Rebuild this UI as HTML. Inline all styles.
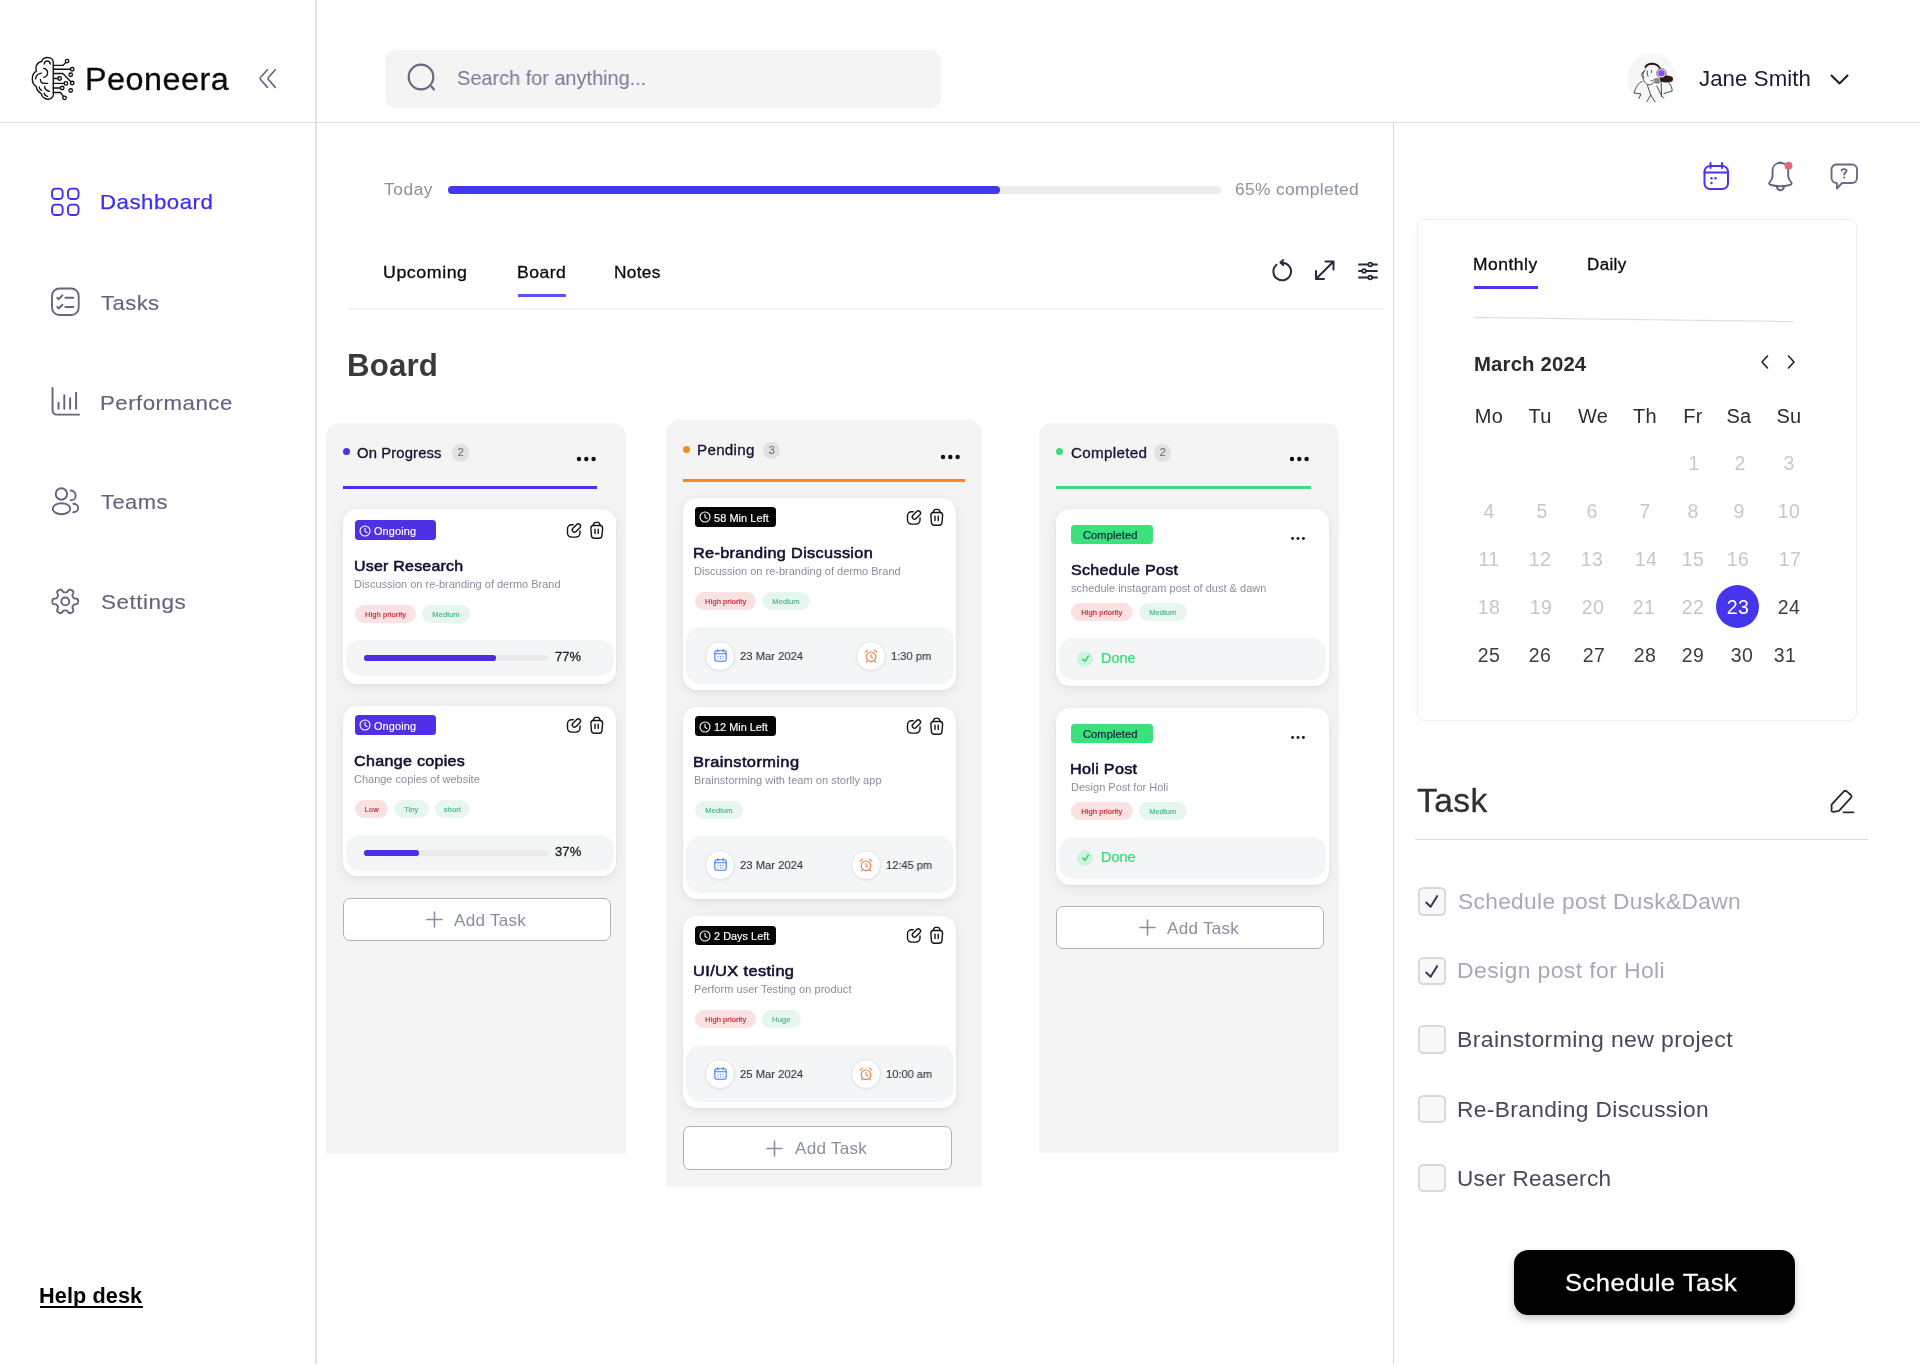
<!DOCTYPE html>
<html><head><meta charset="utf-8"><title>Peoneera</title>
<style>
*{margin:0;padding:0;box-sizing:border-box}
html,body{width:1920px;height:1366px;overflow:hidden;background:#fff;font-family:"Liberation Sans",sans-serif}
.t{position:absolute;line-height:1;white-space:nowrap;will-change:transform}
.r{position:absolute}
.s{position:absolute;overflow:visible}
.med{-webkit-text-stroke:0.35px currentColor}
</style></head><body>
<div class="r" style="left:315.2px;top:0px;width:1.8px;height:1363.5px;background:#e2e2e2;border-radius:0px;"></div>
<div class="r" style="left:0px;top:121.8px;width:1920px;height:1.6px;background:#dcdcdc;border-radius:0px;"></div>
<div class="r" style="left:1392.7px;top:123px;width:1.4px;height:1240.5px;background:#d9d9d9;border-radius:0px;"></div>
<svg class="s" style="left:26px;top:52px;" width="56" height="54" viewBox="0 0 56 54" fill="none"><g stroke="#111" stroke-width="1.35" stroke-linecap="round" stroke-linejoin="round">
<path d="M27.3 10.5 C27.3 7.5 24.8 5.5 21.5 5.5 C18.5 5.5 16.2 7.2 15.6 9.5 C12.5 10.2 10.3 12.5 10 15.5 C9.8 17 10 18 10.3 19.2 C7.8 20.6 6.3 23.5 6.3 27 C6.3 30.2 7.8 33 10.3 34.6 C10.5 37.3 12.5 40 15.2 41.5 C15.8 44.6 18.5 47.2 22 47.2 C25 47.2 27.3 45 27.3 42.5 Z"/>
<path d="M18.2 12 C18.5 9.8 20 9 21.3 9 C22.8 9 24 10 24.3 12 M17.6 16.4 C20.5 16.6 21.8 19 21.6 21 C21.4 23.5 19.5 25 17.8 25.3 M15.4 21.1 C12 21.5 10 24 9.5 26.9 M14.4 27.3 C14.4 29.8 15.8 31.4 18 31.4 H21.7 M13.2 35 C13.5 36.8 14.5 38 15.6 38.3 M18.6 34.4 C18.8 37.2 21 39 23.7 39.3 M18.2 41.1 C18.5 42.8 19.8 44 21.5 44.3"/>
<path d="M27.3 13.4 H36.8 L39.8 10.4 M27.3 17.2 H44.4 M27.3 21.5 H36.8 L44.9 29.7 M27.3 26.5 H31.9 M27.3 31.4 H38.1 M27.3 36 H34.4 M27.3 40.5 H34.4 L37.5 44.4"/>
<circle cx="41.1" cy="9.1" r="1.75"/><circle cx="46.2" cy="17.2" r="1.75"/><circle cx="46.2" cy="31" r="1.75"/><circle cx="44.7" cy="22.7" r="1.75"/>
<circle cx="33.6" cy="26.5" r="1.75"/><circle cx="39.9" cy="31.4" r="1.75"/><circle cx="36.2" cy="36" r="1.75"/><circle cx="44.7" cy="38.5" r="1.75"/><circle cx="38.5" cy="45.8" r="1.75"/>
</g></svg>
<div class="t" style="left:85.02px;top:63.75px;font-size:31px;color:#0b0b0f;letter-spacing:0.507px;-webkit-text-stroke:0.3px #0b0b0f;transform:scaleX(1.0421);transform-origin:0 0;">Peoneera</div>
<svg class="s" style="left:256px;top:68px;" width="24" height="22" viewBox="0 0 24 22" fill="none"><path d="M11.4 1.7 L4.5 9.5 Q3.6 10.55 4.5 11.6 L11.4 19.4 M19.3 1.7 L12.4 9.5 Q11.5 10.55 12.4 11.6 L19.3 19.4" stroke="#66637e" stroke-width="1.6" stroke-linecap="round" stroke-linejoin="round"/></svg>
<svg class="s" style="left:51px;top:187.5px;" width="30" height="30" viewBox="0 0 30 30" fill="none"><g stroke="#3d2ff0" stroke-width="1.9"><rect x="1.05" y="0.65" width="10.6" height="10.4" rx="3.6"/><rect x="16.95" y="0.65" width="10.6" height="10.4" rx="3.6"/>
<rect x="1.05" y="16.65" width="10.6" height="10.4" rx="3.6"/><rect x="16.95" y="16.65" width="10.6" height="10.4" rx="3.6"/></g></svg>
<div class="t" style="left:99.52px;top:191.02px;font-size:21px;color:#3d2ff0;letter-spacing:0.465px;-webkit-text-stroke:0.25px #3d2ff0;transform:scaleX(1.0593);transform-origin:0 0;">Dashboard</div>
<svg class="s" style="left:51px;top:287.5px;" width="30" height="30" viewBox="0 0 30 30" fill="none"><g stroke="#66637e" stroke-width="1.85" stroke-linecap="round" stroke-linejoin="round"><rect x="1" y="0.5" width="26.7" height="26.5" rx="7.5"/>
<path d="M6.3 9.7 L7.7 11.1 L11.4 7.4 M14.4 9.7 H22.3 M6.3 19 L7.7 20.4 L11.4 16.7 M14.4 19 H22.3" stroke-width="2"/></g></svg>
<div class="t" style="left:100.86px;top:291.52px;font-size:21px;color:#66637e;letter-spacing:0.419px;-webkit-text-stroke:0.15px #66637e;transform:scaleX(1.0503);transform-origin:0 0;">Tasks</div>
<svg class="s" style="left:50.5px;top:387px;" width="30" height="30" viewBox="0 0 30 30" fill="none"><g stroke="#66637e" stroke-width="1.95" stroke-linecap="round" stroke-linejoin="round">
<path d="M1.55 0.9 V23.4 a4.2 4.2 0 0 0 4.2 4.2 H28.1"/><path d="M7.5 15.7 V21.7 M13.3 8.3 V21.7 M19.1 11.2 V21.7 M25.1 5.6 V21.7"/></g></svg>
<div class="t" style="left:99.62px;top:391.82px;font-size:21px;color:#66637e;letter-spacing:0.449px;-webkit-text-stroke:0.15px #66637e;transform:scaleX(1.0607);transform-origin:0 0;">Performance</div>
<svg class="s" style="left:51px;top:487px;" width="30" height="30" viewBox="0 0 30 30" fill="none"><g stroke="#66637e" stroke-width="1.9" stroke-linecap="round" stroke-linejoin="round">
<circle cx="10.4" cy="7" r="5.7"/><ellipse cx="10.5" cy="21.7" rx="8.8" ry="5.5"/>
<path d="M19.7 3.5 A5 4.9 0 0 1 19.7 13.3 M22.3 16.8 A4.8 4.2 0 0 1 22.3 25.2"/></g></svg>
<div class="t" style="left:100.86px;top:491.02px;font-size:21px;color:#66637e;letter-spacing:0.432px;-webkit-text-stroke:0.15px #66637e;transform:scaleX(1.0446);transform-origin:0 0;">Teams</div>
<svg class="s" style="left:51px;top:587px;" width="30" height="30" viewBox="0 0 30 30" fill="none"><g stroke="#66637e" stroke-width="1.9" stroke-linejoin="round"><circle cx="14.25" cy="14.4" r="3.95"/><path d="M27.15 14.40 L27.14 14.74 L27.12 15.07 L27.08 15.41 L27.02 15.74 L26.92 16.07 L26.76 16.38 L26.51 16.67 L26.12 16.92 L25.54 17.11 L24.83 17.23 L24.11 17.32 L23.54 17.42 L23.14 17.55 L22.87 17.71 L22.68 17.89 L22.53 18.09 L22.40 18.29 L22.28 18.49 L22.16 18.70 L22.04 18.90 L21.93 19.10 L21.81 19.31 L21.69 19.51 L21.58 19.73 L21.49 19.95 L21.42 20.21 L21.42 20.52 L21.51 20.94 L21.71 21.48 L21.99 22.14 L22.24 22.82 L22.37 23.42 L22.35 23.88 L22.22 24.25 L22.03 24.54 L21.80 24.79 L21.54 25.01 L21.27 25.21 L20.99 25.40 L20.70 25.57 L20.40 25.73 L20.10 25.88 L19.79 26.02 L19.47 26.13 L19.14 26.21 L18.79 26.23 L18.41 26.16 L18.00 25.94 L17.55 25.53 L17.08 24.98 L16.65 24.40 L16.28 23.95 L15.97 23.67 L15.69 23.52 L15.44 23.44 L15.20 23.41 L14.96 23.40 L14.72 23.40 L14.49 23.40 L14.25 23.40 L14.01 23.40 L13.78 23.40 L13.54 23.40 L13.30 23.41 L13.06 23.44 L12.81 23.52 L12.53 23.67 L12.22 23.95 L11.85 24.40 L11.42 24.98 L10.95 25.53 L10.50 25.94 L10.09 26.16 L9.71 26.23 L9.36 26.21 L9.03 26.13 L8.71 26.02 L8.40 25.88 L8.10 25.73 L7.80 25.57 L7.51 25.40 L7.23 25.21 L6.96 25.01 L6.70 24.79 L6.47 24.54 L6.28 24.25 L6.15 23.88 L6.13 23.42 L6.26 22.82 L6.51 22.14 L6.79 21.48 L6.99 20.94 L7.08 20.52 L7.08 20.21 L7.01 19.95 L6.92 19.73 L6.81 19.51 L6.69 19.31 L6.57 19.10 L6.46 18.90 L6.34 18.70 L6.22 18.49 L6.10 18.29 L5.97 18.09 L5.82 17.89 L5.63 17.71 L5.36 17.55 L4.96 17.42 L4.39 17.32 L3.67 17.23 L2.96 17.11 L2.38 16.92 L1.99 16.67 L1.74 16.38 L1.58 16.07 L1.48 15.74 L1.42 15.41 L1.38 15.07 L1.36 14.74 L1.35 14.40 L1.36 14.06 L1.38 13.73 L1.42 13.39 L1.48 13.06 L1.58 12.73 L1.74 12.42 L1.99 12.13 L2.38 11.88 L2.96 11.69 L3.67 11.57 L4.39 11.48 L4.96 11.38 L5.36 11.25 L5.63 11.09 L5.82 10.91 L5.97 10.71 L6.10 10.51 L6.22 10.31 L6.34 10.10 L6.46 9.90 L6.57 9.70 L6.69 9.49 L6.81 9.29 L6.92 9.07 L7.01 8.85 L7.08 8.59 L7.08 8.28 L6.99 7.86 L6.79 7.32 L6.51 6.66 L6.26 5.98 L6.13 5.38 L6.15 4.92 L6.28 4.55 L6.47 4.26 L6.70 4.01 L6.96 3.79 L7.23 3.59 L7.51 3.40 L7.80 3.23 L8.10 3.07 L8.40 2.92 L8.71 2.78 L9.03 2.67 L9.36 2.59 L9.71 2.57 L10.09 2.64 L10.50 2.86 L10.95 3.27 L11.42 3.82 L11.85 4.40 L12.22 4.85 L12.53 5.13 L12.81 5.28 L13.06 5.36 L13.30 5.39 L13.54 5.40 L13.78 5.40 L14.01 5.40 L14.25 5.40 L14.49 5.40 L14.72 5.40 L14.96 5.40 L15.20 5.39 L15.44 5.36 L15.69 5.28 L15.97 5.13 L16.28 4.85 L16.65 4.40 L17.08 3.82 L17.55 3.27 L18.00 2.86 L18.41 2.64 L18.79 2.57 L19.14 2.59 L19.47 2.67 L19.79 2.78 L20.10 2.92 L20.40 3.07 L20.70 3.23 L20.99 3.40 L21.27 3.59 L21.54 3.79 L21.80 4.01 L22.03 4.26 L22.22 4.55 L22.35 4.92 L22.37 5.38 L22.24 5.98 L21.99 6.66 L21.71 7.32 L21.51 7.86 L21.42 8.28 L21.42 8.59 L21.49 8.85 L21.58 9.07 L21.69 9.29 L21.81 9.49 L21.93 9.70 L22.04 9.90 L22.16 10.10 L22.28 10.31 L22.40 10.51 L22.53 10.71 L22.68 10.91 L22.87 11.09 L23.14 11.25 L23.54 11.38 L24.11 11.48 L24.83 11.57 L25.54 11.69 L26.12 11.88 L26.51 12.13 L26.76 12.42 L26.92 12.73 L27.02 13.06 L27.08 13.39 L27.12 13.73 L27.14 14.06 Z"/></g></svg>
<div class="t" style="left:100.89px;top:591.12px;font-size:21px;color:#66637e;letter-spacing:0.473px;-webkit-text-stroke:0.15px #66637e;transform:scaleX(1.0717);transform-origin:0 0;">Settings</div>
<div class="t" style="left:39.19px;top:1285.60px;font-size:21.5px;color:#000;font-weight:700;letter-spacing:0.075px;transform:scaleX(1.0090);transform-origin:0 0;">Help desk</div>
<div class="r" style="left:40.2px;top:1306.2px;width:102.5px;height:1.8px;background:#000;border-radius:0px;"></div>
<div class="r" style="left:384.5px;top:49.5px;width:556px;height:58px;background:#f4f4f5;border-radius:10px;"></div>
<svg class="s" style="left:406px;top:62px;" width="32" height="32" viewBox="0 0 32 32" fill="none"><circle cx="15" cy="15" r="12.3" stroke="#6a6880" stroke-width="2.2"/><path d="M25.5 24.5 L28 27.5" stroke="#6a6880" stroke-width="2.2" stroke-linecap="round"/></svg>
<div class="t" style="left:456.90px;top:67.70px;font-size:20.2px;color:#7b7891;letter-spacing:-0.051px;transform:scaleX(0.9915);transform-origin:0 0;">Search for anything...</div>
<svg class="s" style="left:1627.5px;top:54px;" width="48" height="48" viewBox="0 0 48 48" fill="none"><circle cx="24" cy="24.5" r="24.5" fill="#f5f6f7"/>
<g stroke="#3a2e28" stroke-width="0.85" fill="none" stroke-linecap="round" stroke-linejoin="round">
<path d="M17.5 15.5 C15.5 17 14.8 20 15 23 C15.3 27 17.5 30.5 21 30.8 C23 31 24.5 30 25.5 28.5"/>
<path d="M16 17.5 C14 17.5 13.2 20 14.2 22.3 C14.8 23.5 15.5 23.6 16 23.5"/>
<path d="M19.5 17 C19 18.5 19.2 21 20 22.5 M23.5 16.5 V18.5"/>
<path d="M23 26.8 C24 27 25 26.6 25.5 26"/>
<path d="M14 27.5 C10 29 8 33 6 39 L13 40 L11 44.5"/>
<path d="M19.5 31.5 L22.7 41 L19 47.5 M22.7 41 L27 47.8"/>
<path d="M28.8 32 L33.4 41.5 L35.5 44"/>
<path d="M33 24.8 L33.6 42.5"/>
<path d="M40.8 28.8 C43 31 44 34 44.2 37 L35.9 39.5"/>
<path d="M17.2 13.5 C19 10.5 23 9.5 27 10.5 C29.5 11.2 31.5 13 32.5 15.5"/>
</g>
<path d="M16.5 12.8 C18 9 22.5 8.3 26.5 9 C29.5 9.6 31.5 11.5 32.8 14.5 L31.2 15 C30 12.5 28 11.2 25.5 10.8 C22 10.3 19.5 11 17.8 14.5 Z" fill="#2a1a12"/>
<path d="M31.5 21.5 C35 21 40 21.5 43.5 22.5 C45.5 23.2 45.5 26.5 43.5 27.8 C40.5 29 36 28.8 32.5 27.5 Z" fill="#2a1a12"/>
<path d="M26.2 24.5 C28 23.5 30.5 23.8 31.8 25 L31.8 29 C30 30 27.5 30 26.2 29 Z" fill="#8d8580"/>
<circle cx="33.4" cy="19.3" r="4.6" fill="#fff" stroke="#3a2e28" stroke-width="0.8"/>
<circle cx="33.4" cy="19.3" r="3.3" fill="#8a4cf5"/></svg>
<div class="t" style="left:1698.67px;top:68.37px;font-size:22px;color:#1c1938;letter-spacing:0.077px;transform:scaleX(1.0098);transform-origin:0 0;">Jane Smith</div>
<svg class="s" style="left:1829px;top:73px;" width="22" height="14" viewBox="0 0 22 14" fill="none"><path d="M2.5 2.5 L10.5 10.5 L18.5 2.5" stroke="#1c1938" stroke-width="2" stroke-linecap="round" stroke-linejoin="round"/></svg>
<div class="t" style="left:384.35px;top:181.65px;font-size:16px;color:#8b90a0;letter-spacing:0.536px;transform:scaleX(1.0821);transform-origin:0 0;">Today</div>
<div class="r" style="left:447.7px;top:185.7px;width:773.5px;height:8.2px;background:#ececec;border-radius:4.1px;"></div>
<div class="r" style="left:447.7px;top:185.7px;width:552px;height:8.2px;background:#4338f0;border-radius:4.1px;"></div>
<div class="t" style="left:1234.93px;top:181.23px;font-size:16.5px;color:#8b90a0;letter-spacing:0.314px;transform:scaleX(1.0532);transform-origin:0 0;">65% completed</div>
<div class="t" style="left:383.16px;top:264.33px;font-size:16.5px;color:#0b0b0f;letter-spacing:0.506px;-webkit-text-stroke:0.3px #0b0b0f;transform:scaleX(1.0797);transform-origin:0 0;">Upcoming</div>
<div class="t" style="left:516.79px;top:264.33px;font-size:16.5px;color:#0b0b0f;letter-spacing:0.442px;-webkit-text-stroke:0.3px #0b0b0f;transform:scaleX(1.0681);transform-origin:0 0;">Board</div>
<div class="t" style="left:614.32px;top:264.33px;font-size:16.5px;color:#0b0b0f;letter-spacing:0.309px;-webkit-text-stroke:0.3px #0b0b0f;transform:scaleX(1.0471);transform-origin:0 0;">Notes</div>
<div class="r" style="left:517.7px;top:294.2px;width:48px;height:2.8px;background:#5b55f0;border-radius:0px;"></div>
<div class="r" style="left:348px;top:308.3px;width:1034.5px;height:2.2px;background:#f2f2f3;border-radius:0px;"></div>
<svg class="s" style="left:1271.2px;top:260px;" width="22" height="22" viewBox="0 0 22 22" fill="none"><g stroke="#262b3d" stroke-width="2" stroke-linecap="round" stroke-linejoin="round">
<path d="M5.54 4.76 A8.8 8.8 0 1 0 10.9 2.7"/><path d="M12.2 0.1 L9.4 2.55 L12.2 5.1"/></g></svg>
<svg class="s" style="left:1314px;top:260px;" width="22" height="22" viewBox="0 0 22 22" fill="none"><g stroke="#262b3d" stroke-width="2" stroke-linecap="round" stroke-linejoin="round">
<path d="M2 19 L19.5 1.5 M11.5 1.5 H19.5 V9.5 M2 11 V19 H10"/></g></svg>
<svg class="s" style="left:1357.5px;top:262px;" width="21" height="19" viewBox="0 0 21 19" fill="none"><g stroke="#262b3d" stroke-width="1.8" stroke-linecap="round">
<path d="M1 2.5 H10 M14.5 2.5 H19 M1 9 H3.8 M8.3 9 H19 M1 15.5 H10 M14.5 15.5 H19"/>
<circle cx="12.2" cy="2.5" r="1.9"/><circle cx="6" cy="9" r="1.9"/><circle cx="12.2" cy="15.5" r="1.9"/></g></svg>
<div class="t" style="left:347.17px;top:350.15px;font-size:31px;color:#3a3a3c;font-weight:700;letter-spacing:0.123px;transform:scaleX(1.0087);transform-origin:0 0;">Board</div>
<div class="r" style="left:326px;top:423px;width:300px;height:730.5px;background:#f4f4f4;border-radius:0px;border-radius:13px 13px 0 0;"></div>
<div class="r" style="left:666px;top:419.6px;width:316px;height:767.4px;background:#f4f4f4;border-radius:0px;border-radius:13px 13px 0 0;"></div>
<div class="r" style="left:1038.5px;top:422.7px;width:300px;height:730.8px;background:#f4f4f4;border-radius:0px;border-radius:13px 13px 0 0;"></div>
<div class="r" style="left:342.59999999999997px;top:448.2px;width:7.2px;height:7.2px;background:#4a2ff0;border-radius:3.6px;"></div>
<div class="t" style="left:357.33px;top:445.62px;font-size:14.5px;color:#15122f;letter-spacing:0.119px;-webkit-text-stroke:0.3px #15122f;transform:scaleX(1.0227);transform-origin:0 0;">On Progress</div>
<div class="r" style="left:451.5px;top:444.3px;width:17.4px;height:17.4px;background:#e1e1e3;border-radius:8.7px;"></div>
<div class="t" style="left:451.50px;width:17.4px;text-align:center;top:447.26px;font-size:11.5px;color:#66667a;">2</div>
<svg class="s" style="left:575.5px;top:456px;" width="21" height="6" viewBox="0 0 21 6" fill="none"><g fill="#0b0b12"><circle cx="3" cy="3" r="2.2"/><circle cx="10.3" cy="3" r="2.2"/><circle cx="17.6" cy="3" r="2.2"/></g></svg>
<div class="r" style="left:342.7px;top:485.9px;width:254.8px;height:3px;background:#4a2ff0;border-radius:0px;"></div>
<div class="r" style="left:682.9px;top:445.7px;width:7.2px;height:7.2px;background:#f58a1f;border-radius:3.6px;"></div>
<div class="t" style="left:696.98px;top:443.12px;font-size:14.5px;color:#15122f;letter-spacing:0.26px;-webkit-text-stroke:0.3px #15122f;transform:scaleX(1.0480);transform-origin:0 0;">Pending</div>
<div class="r" style="left:762.8px;top:441.6px;width:17.4px;height:17.4px;background:#e1e1e3;border-radius:8.7px;"></div>
<div class="t" style="left:762.80px;width:17.4px;text-align:center;top:444.56px;font-size:11.5px;color:#66667a;">3</div>
<svg class="s" style="left:939.9px;top:453.5px;" width="21" height="6" viewBox="0 0 21 6" fill="none"><g fill="#0b0b12"><circle cx="3" cy="3" r="2.2"/><circle cx="10.3" cy="3" r="2.2"/><circle cx="17.6" cy="3" r="2.2"/></g></svg>
<div class="r" style="left:683px;top:479.3px;width:282px;height:3px;background:#f58a1f;border-radius:0px;"></div>
<div class="r" style="left:1055.7px;top:448.2px;width:7.2px;height:7.2px;background:#3ddc74;border-radius:3.6px;"></div>
<div class="t" style="left:1070.64px;top:445.62px;font-size:14.5px;color:#15122f;letter-spacing:0.279px;-webkit-text-stroke:0.3px #15122f;transform:scaleX(1.0514);transform-origin:0 0;">Completed</div>
<div class="r" style="left:1154.0px;top:444.3px;width:17.4px;height:17.4px;background:#e1e1e3;border-radius:8.7px;"></div>
<div class="t" style="left:1154.00px;width:17.4px;text-align:center;top:447.26px;font-size:11.5px;color:#66667a;">2</div>
<svg class="s" style="left:1288.7px;top:456.3px;" width="21" height="6" viewBox="0 0 21 6" fill="none"><g fill="#0b0b12"><circle cx="3" cy="3" r="2.2"/><circle cx="10.3" cy="3" r="2.2"/><circle cx="17.6" cy="3" r="2.2"/></g></svg>
<div class="r" style="left:1056px;top:486.1px;width:254.70000000000005px;height:3px;background:#3ddc74;border-radius:0px;"></div>
<div class="r" style="left:343.3px;top:509px;width:272.7px;height:175.4px;background:#fff;border-radius:14px;box-shadow:0 3px 14px rgba(0,0,0,0.075),0 1px 3px rgba(0,0,0,0.04);"></div>
<div class="r" style="left:355.0px;top:520.3px;width:81px;height:20.1px;background:#5030e5;border-radius:3.5px;"></div>
<svg class="s" style="left:359.4px;top:524.7499999999999px;" width="12" height="12" viewBox="0 0 12 12" fill="none"><circle cx="6" cy="6" r="5" stroke="#fff" stroke-width="1.1"/><path d="M6 3.2 V6.2 L8 7.6" stroke="#fff" stroke-width="1.1" stroke-linecap="round" stroke-linejoin="round"/></svg>
<div class="t" style="left:373.91px;top:526.01px;font-size:10.5px;color:#fff;letter-spacing:0.146px;-webkit-text-stroke:0.15px #fff;transform:scaleX(1.0353);transform-origin:0 0;">Ongoing</div>
<svg class="s" style="left:566.2px;top:523.1px;" width="16" height="16" viewBox="0 0 16 16" fill="none"><g stroke="#141418" stroke-width="1.4" stroke-linecap="round" stroke-linejoin="round"><path d="M7.2 1.7 H5.5 A4 4 0 0 0 1.5 5.7 V10.1 A4 4 0 0 0 5.5 14.1 H10 A4 4 0 0 0 14 10.1 V7.9"/><rect x="5.52" y="2.8" width="9.77" height="4.4" rx="2.2" transform="rotate(-45 10.4 5)"/></g></svg>
<svg class="s" style="left:589.3px;top:522.2px;" width="16" height="17" viewBox="0 0 16 17" fill="none"><g stroke="#141418" stroke-width="1.4" stroke-linecap="round" stroke-linejoin="round"><path d="M1.85 6.3 A2.75 2.75 0 0 1 4.6 3.55 H10.85 A2.75 2.75 0 0 1 13.6 6.3 L13 13 A3.2 3.2 0 0 1 9.8 16.2 H5.6 A3.2 3.2 0 0 1 2.4 13 Z"/><path d="M3.9 3.3 L5.1 1.4 Q5.5 0.4 6.5 0.4 H8.9 Q9.9 0.4 10.3 1.4 L11.4 3.3"/><path d="M6 7.3 V11.5 M9.2 7.3 V11.5"/></g></svg>
<div class="t" style="left:353.80px;top:558.05px;font-size:15.3px;color:#120f30;letter-spacing:0.227px;-webkit-text-stroke:0.55px #120f30;transform:scaleX(1.0426);transform-origin:0 0;">User Research</div>
<div class="t" style="left:354.12px;top:578.99px;font-size:11px;color:#8d8c9f;letter-spacing:-0.003px;transform:scaleX(0.9990);transform-origin:0 0;">Discussion on re-branding of dermo Brand</div>
<div class="r" style="left:355.0px;top:605px;height:18.4px;display:flex;gap:6.2px"><div style="width:61.2px;height:18.4px;border-radius:9.2px;background:#fbe2e2;color:#cc2b36;font-size:7.6px;line-height:19.6px;text-align:center;-webkit-text-stroke:0.2px #cc2b36;letter-spacing:0.05px;will-change:transform">High priority</div><div style="width:48px;height:18.4px;border-radius:9.2px;background:#e7f7ef;color:#4cb98a;font-size:7.6px;line-height:19.6px;text-align:center;-webkit-text-stroke:0.2px #4cb98a;letter-spacing:0.05px;will-change:transform">Medium</div></div>
<div class="r" style="left:345.6px;top:639.8px;width:268px;height:36px;background:#f4f5f7;border-radius:14px;"></div>
<div class="r" style="left:364px;top:655.3px;width:184.5px;height:5.6px;background:#ebebeb;border-radius:2.8px;"></div>
<div class="r" style="left:364px;top:655.3px;width:131.6px;height:5.6px;background:#4f2de6;border-radius:2.8px;"></div>
<div class="t" style="left:555.35px;top:651.08px;font-size:12.9px;color:#202024;letter-spacing:0.019px;-webkit-text-stroke:0.3px #202024;transform:scaleX(1.0023);transform-origin:0 0;">77%</div>
<div class="r" style="left:343.3px;top:706.4px;width:272.7px;height:170px;background:#fff;border-radius:14px;box-shadow:0 3px 14px rgba(0,0,0,0.075),0 1px 3px rgba(0,0,0,0.04);"></div>
<div class="r" style="left:355.0px;top:714.9999999999999px;width:81px;height:20.1px;background:#5030e5;border-radius:3.5px;"></div>
<svg class="s" style="left:359.4px;top:719.4499999999998px;" width="12" height="12" viewBox="0 0 12 12" fill="none"><circle cx="6" cy="6" r="5" stroke="#fff" stroke-width="1.1"/><path d="M6 3.2 V6.2 L8 7.6" stroke="#fff" stroke-width="1.1" stroke-linecap="round" stroke-linejoin="round"/></svg>
<div class="t" style="left:373.91px;top:720.71px;font-size:10.5px;color:#fff;letter-spacing:0.146px;-webkit-text-stroke:0.15px #fff;transform:scaleX(1.0353);transform-origin:0 0;">Ongoing</div>
<svg class="s" style="left:566.2px;top:717.8px;" width="16" height="16" viewBox="0 0 16 16" fill="none"><g stroke="#141418" stroke-width="1.4" stroke-linecap="round" stroke-linejoin="round"><path d="M7.2 1.7 H5.5 A4 4 0 0 0 1.5 5.7 V10.1 A4 4 0 0 0 5.5 14.1 H10 A4 4 0 0 0 14 10.1 V7.9"/><rect x="5.52" y="2.8" width="9.77" height="4.4" rx="2.2" transform="rotate(-45 10.4 5)"/></g></svg>
<svg class="s" style="left:589.3px;top:716.9px;" width="16" height="17" viewBox="0 0 16 17" fill="none"><g stroke="#141418" stroke-width="1.4" stroke-linecap="round" stroke-linejoin="round"><path d="M1.85 6.3 A2.75 2.75 0 0 1 4.6 3.55 H10.85 A2.75 2.75 0 0 1 13.6 6.3 L13 13 A3.2 3.2 0 0 1 9.8 16.2 H5.6 A3.2 3.2 0 0 1 2.4 13 Z"/><path d="M3.9 3.3 L5.1 1.4 Q5.5 0.4 6.5 0.4 H8.9 Q9.9 0.4 10.3 1.4 L11.4 3.3"/><path d="M6 7.3 V11.5 M9.2 7.3 V11.5"/></g></svg>
<div class="t" style="left:354.20px;top:752.75px;font-size:15.3px;color:#120f30;letter-spacing:0.277px;-webkit-text-stroke:0.55px #120f30;transform:scaleX(1.0521);transform-origin:0 0;">Change copies</div>
<div class="t" style="left:354.45px;top:773.69px;font-size:11px;color:#8d8c9f;letter-spacing:-0.009px;transform:scaleX(0.9976);transform-origin:0 0;">Change copies of website</div>
<div class="r" style="left:355.0px;top:799.6999999999999px;height:18.4px;display:flex;gap:6.2px"><div style="width:33.3px;height:18.4px;border-radius:9.2px;background:#fbe2e2;color:#cc2b36;font-size:7.6px;line-height:19.6px;text-align:center;-webkit-text-stroke:0.2px #cc2b36;letter-spacing:0.05px;will-change:transform">Low</div><div style="width:34.7px;height:18.4px;border-radius:9.2px;background:#e7f7ef;color:#4cb98a;font-size:7.6px;line-height:19.6px;text-align:center;-webkit-text-stroke:0.2px #4cb98a;letter-spacing:0.05px;will-change:transform">Tiny</div><div style="width:34.7px;height:18.4px;border-radius:9.2px;background:#e7f7ef;color:#4cb98a;font-size:7.6px;line-height:19.6px;text-align:center;-webkit-text-stroke:0.2px #4cb98a;letter-spacing:0.05px;will-change:transform">short</div></div>
<div class="r" style="left:345.6px;top:834.5px;width:268px;height:36px;background:#f4f5f7;border-radius:14px;"></div>
<div class="r" style="left:364px;top:850.0px;width:184.5px;height:5.6px;background:#ebebeb;border-radius:2.8px;"></div>
<div class="r" style="left:364px;top:850.0px;width:55.3px;height:5.6px;background:#4f2de6;border-radius:2.8px;"></div>
<div class="t" style="left:555.48px;top:845.78px;font-size:12.9px;color:#202024;letter-spacing:0.092px;-webkit-text-stroke:0.3px #202024;transform:scaleX(1.0113);transform-origin:0 0;">37%</div>
<div class="r" style="left:683.4px;top:498.1px;width:272.8px;height:191.9px;background:#fff;border-radius:14px;box-shadow:0 3px 14px rgba(0,0,0,0.075),0 1px 3px rgba(0,0,0,0.04);"></div>
<div class="r" style="left:694.6px;top:507.3px;width:81.8px;height:19.5px;background:#050505;border-radius:3.5px;"></div>
<svg class="s" style="left:699.0px;top:511.44999999999993px;" width="12" height="12" viewBox="0 0 12 12" fill="none"><circle cx="6" cy="6" r="5" stroke="#fff" stroke-width="1.1"/><path d="M6 3.2 V6.2 L8 7.6" stroke="#fff" stroke-width="1.1" stroke-linecap="round" stroke-linejoin="round"/></svg>
<div class="t" style="left:713.96px;top:513.16px;font-size:10.8px;color:#fff;letter-spacing:0.054px;-webkit-text-stroke:0.15px #fff;transform:scaleX(1.0156);transform-origin:0 0;">58 Min Left</div>
<svg class="s" style="left:906.3px;top:509.90000000000003px;" width="16" height="16" viewBox="0 0 16 16" fill="none"><g stroke="#141418" stroke-width="1.4" stroke-linecap="round" stroke-linejoin="round"><path d="M7.2 1.7 H5.5 A4 4 0 0 0 1.5 5.7 V10.1 A4 4 0 0 0 5.5 14.1 H10 A4 4 0 0 0 14 10.1 V7.9"/><rect x="5.52" y="2.8" width="9.77" height="4.4" rx="2.2" transform="rotate(-45 10.4 5)"/></g></svg>
<svg class="s" style="left:929.4px;top:509.0px;" width="16" height="17" viewBox="0 0 16 17" fill="none"><g stroke="#141418" stroke-width="1.4" stroke-linecap="round" stroke-linejoin="round"><path d="M1.85 6.3 A2.75 2.75 0 0 1 4.6 3.55 H10.85 A2.75 2.75 0 0 1 13.6 6.3 L13 13 A3.2 3.2 0 0 1 9.8 16.2 H5.6 A3.2 3.2 0 0 1 2.4 13 Z"/><path d="M3.9 3.3 L5.1 1.4 Q5.5 0.4 6.5 0.4 H8.9 Q9.9 0.4 10.3 1.4 L11.4 3.3"/><path d="M6 7.3 V11.5 M9.2 7.3 V11.5"/></g></svg>
<div class="t" style="left:693.30px;top:544.65px;font-size:15.3px;color:#120f30;letter-spacing:0.308px;-webkit-text-stroke:0.55px #120f30;transform:scaleX(1.0645);transform-origin:0 0;">Re-branding Discussion</div>
<div class="t" style="left:693.72px;top:565.69px;font-size:11px;color:#8d8c9f;letter-spacing:-0.001px;transform:scaleX(0.9996);transform-origin:0 0;">Discussion on re-branding of dermo Brand</div>
<div class="r" style="left:694.6px;top:591.6px;height:18.4px;display:flex;gap:6.2px"><div style="width:61.4px;height:18.4px;border-radius:9.2px;background:#fbe2e2;color:#cc2b36;font-size:7.6px;line-height:19.6px;text-align:center;-webkit-text-stroke:0.2px #cc2b36;letter-spacing:0.05px;will-change:transform">High priority</div><div style="width:48px;height:18.4px;border-radius:9.2px;background:#e7f7ef;color:#4cb98a;font-size:7.6px;line-height:19.6px;text-align:center;-webkit-text-stroke:0.2px #4cb98a;letter-spacing:0.05px;will-change:transform">Medium</div></div>
<div class="r" style="left:686px;top:626.6px;width:267.7px;height:57.4px;background:#f4f5f7;border-radius:15px;"></div>
<div class="r" style="left:705px;top:640.7px;width:30px;height:30px;background:#fff;border-radius:15px;border:1px solid #e4e4e6;box-shadow:0 1px 2px rgba(0,0,0,0.06);"></div>
<svg class="s" style="left:713.5px;top:649.2px;" width="13" height="13" viewBox="0 0 13 13" fill="none"><g stroke="#3f7df5" stroke-width="1.1" stroke-linecap="round"><rect x="0.8" y="1.8" width="11.4" height="10.4" rx="2.2"/><path d="M0.8 4.8 H12.2 M3.8 0.6 V2.6 M9.2 0.6 V2.6"/></g><g fill="#3f7df5"><circle cx="4" cy="7.3" r="0.6"/><circle cx="6.5" cy="7.3" r="0.6"/><circle cx="9" cy="7.3" r="0.6"/><circle cx="4" cy="9.8" r="0.6"/><circle cx="6.5" cy="9.8" r="0.6"/><circle cx="9" cy="9.8" r="0.6"/></g></svg>
<div class="t" style="left:740.24px;top:650.73px;font-size:11.3px;color:#35353c;letter-spacing:-0.018px;-webkit-text-stroke:0.12px #35353c;transform:scaleX(0.9957);transform-origin:0 0;">23 Mar 2024</div>
<div class="r" style="left:856.3000000000001px;top:640.7px;width:30px;height:30px;background:#fff;border-radius:15px;border:1px solid #e4e4e6;box-shadow:0 1px 2px rgba(0,0,0,0.06);"></div>
<svg class="s" style="left:864.3000000000001px;top:648.7px;" width="14" height="14" viewBox="0 0 14 14" fill="none"><g stroke="#f07a45" stroke-width="1.1" stroke-linecap="round" stroke-linejoin="round"><circle cx="7" cy="7.8" r="4.8"/><path d="M7 5.5 V7.9 L8.6 9 M1.2 3.2 L3.4 1.2 M12.8 3.2 L10.6 1.2 M3.4 11.8 L2.3 13 M10.6 11.8 L11.7 13"/></g></svg>
<div class="t" style="left:891.26px;top:650.73px;font-size:11.3px;color:#35353c;letter-spacing:-0.038px;-webkit-text-stroke:0.12px #35353c;transform:scaleX(0.9913);transform-origin:0 0;">1:30 pm</div>
<div class="r" style="left:683.4px;top:707.2px;width:272.8px;height:191.9px;background:#fff;border-radius:14px;box-shadow:0 3px 14px rgba(0,0,0,0.075),0 1px 3px rgba(0,0,0,0.04);"></div>
<div class="r" style="left:694.6px;top:716.4000000000001px;width:81.8px;height:19.5px;background:#050505;border-radius:3.5px;"></div>
<svg class="s" style="left:699.0px;top:720.5500000000001px;" width="12" height="12" viewBox="0 0 12 12" fill="none"><circle cx="6" cy="6" r="5" stroke="#fff" stroke-width="1.1"/><path d="M6 3.2 V6.2 L8 7.6" stroke="#fff" stroke-width="1.1" stroke-linecap="round" stroke-linejoin="round"/></svg>
<div class="t" style="left:713.59px;top:722.26px;font-size:10.8px;color:#fff;letter-spacing:0.018px;-webkit-text-stroke:0.15px #fff;transform:scaleX(1.0052);transform-origin:0 0;">12 Min Left</div>
<svg class="s" style="left:906.3px;top:719.0px;" width="16" height="16" viewBox="0 0 16 16" fill="none"><g stroke="#141418" stroke-width="1.4" stroke-linecap="round" stroke-linejoin="round"><path d="M7.2 1.7 H5.5 A4 4 0 0 0 1.5 5.7 V10.1 A4 4 0 0 0 5.5 14.1 H10 A4 4 0 0 0 14 10.1 V7.9"/><rect x="5.52" y="2.8" width="9.77" height="4.4" rx="2.2" transform="rotate(-45 10.4 5)"/></g></svg>
<svg class="s" style="left:929.4px;top:718.1px;" width="16" height="17" viewBox="0 0 16 17" fill="none"><g stroke="#141418" stroke-width="1.4" stroke-linecap="round" stroke-linejoin="round"><path d="M1.85 6.3 A2.75 2.75 0 0 1 4.6 3.55 H10.85 A2.75 2.75 0 0 1 13.6 6.3 L13 13 A3.2 3.2 0 0 1 9.8 16.2 H5.6 A3.2 3.2 0 0 1 2.4 13 Z"/><path d="M3.9 3.3 L5.1 1.4 Q5.5 0.4 6.5 0.4 H8.9 Q9.9 0.4 10.3 1.4 L11.4 3.3"/><path d="M6 7.3 V11.5 M9.2 7.3 V11.5"/></g></svg>
<div class="t" style="left:693.28px;top:753.75px;font-size:15.3px;color:#120f30;letter-spacing:0.357px;-webkit-text-stroke:0.55px #120f30;transform:scaleX(1.0750);transform-origin:0 0;">Brainstorming</div>
<div class="t" style="left:693.72px;top:774.79px;font-size:11px;color:#8d8c9f;letter-spacing:0.012px;transform:scaleX(1.0035);transform-origin:0 0;">Brainstorming with team on storlly app</div>
<div class="r" style="left:694.6px;top:800.7px;height:18.4px;display:flex;gap:6.2px"><div style="width:48px;height:18.4px;border-radius:9.2px;background:#e7f7ef;color:#4cb98a;font-size:7.6px;line-height:19.6px;text-align:center;-webkit-text-stroke:0.2px #4cb98a;letter-spacing:0.05px;will-change:transform">Medium</div></div>
<div class="r" style="left:686px;top:835.7px;width:267.7px;height:57.4px;background:#f4f5f7;border-radius:15px;"></div>
<div class="r" style="left:705px;top:849.8000000000001px;width:30px;height:30px;background:#fff;border-radius:15px;border:1px solid #e4e4e6;box-shadow:0 1px 2px rgba(0,0,0,0.06);"></div>
<svg class="s" style="left:713.5px;top:858.3000000000001px;" width="13" height="13" viewBox="0 0 13 13" fill="none"><g stroke="#3f7df5" stroke-width="1.1" stroke-linecap="round"><rect x="0.8" y="1.8" width="11.4" height="10.4" rx="2.2"/><path d="M0.8 4.8 H12.2 M3.8 0.6 V2.6 M9.2 0.6 V2.6"/></g><g fill="#3f7df5"><circle cx="4" cy="7.3" r="0.6"/><circle cx="6.5" cy="7.3" r="0.6"/><circle cx="9" cy="7.3" r="0.6"/><circle cx="4" cy="9.8" r="0.6"/><circle cx="6.5" cy="9.8" r="0.6"/><circle cx="9" cy="9.8" r="0.6"/></g></svg>
<div class="t" style="left:740.24px;top:859.83px;font-size:11.3px;color:#35353c;letter-spacing:-0.014px;-webkit-text-stroke:0.12px #35353c;transform:scaleX(0.9967);transform-origin:0 0;">23 Mar 2024</div>
<div class="r" style="left:851.1px;top:849.8000000000001px;width:30px;height:30px;background:#fff;border-radius:15px;border:1px solid #e4e4e6;box-shadow:0 1px 2px rgba(0,0,0,0.06);"></div>
<svg class="s" style="left:859.1px;top:857.8000000000001px;" width="14" height="14" viewBox="0 0 14 14" fill="none"><g stroke="#f07a45" stroke-width="1.1" stroke-linecap="round" stroke-linejoin="round"><circle cx="7" cy="7.8" r="4.8"/><path d="M7 5.5 V7.9 L8.6 9 M1.2 3.2 L3.4 1.2 M12.8 3.2 L10.6 1.2 M3.4 11.8 L2.3 13 M10.6 11.8 L11.7 13"/></g></svg>
<div class="t" style="left:886.06px;top:859.83px;font-size:11.3px;color:#35353c;letter-spacing:-0.048px;-webkit-text-stroke:0.12px #35353c;transform:scaleX(0.9889);transform-origin:0 0;">12:45 pm</div>
<div class="r" style="left:683.4px;top:916.3px;width:272.8px;height:191.9px;background:#fff;border-radius:14px;box-shadow:0 3px 14px rgba(0,0,0,0.075),0 1px 3px rgba(0,0,0,0.04);"></div>
<div class="r" style="left:694.6px;top:925.5px;width:81.8px;height:19.5px;background:#050505;border-radius:3.5px;"></div>
<svg class="s" style="left:699.0px;top:929.65px;" width="12" height="12" viewBox="0 0 12 12" fill="none"><circle cx="6" cy="6" r="5" stroke="#fff" stroke-width="1.1"/><path d="M6 3.2 V6.2 L8 7.6" stroke="#fff" stroke-width="1.1" stroke-linecap="round" stroke-linejoin="round"/></svg>
<div class="t" style="left:713.86px;top:931.36px;font-size:10.8px;color:#fff;letter-spacing:0.028px;-webkit-text-stroke:0.15px #fff;transform:scaleX(1.0078);transform-origin:0 0;">2 Days Left</div>
<svg class="s" style="left:906.3px;top:928.0999999999999px;" width="16" height="16" viewBox="0 0 16 16" fill="none"><g stroke="#141418" stroke-width="1.4" stroke-linecap="round" stroke-linejoin="round"><path d="M7.2 1.7 H5.5 A4 4 0 0 0 1.5 5.7 V10.1 A4 4 0 0 0 5.5 14.1 H10 A4 4 0 0 0 14 10.1 V7.9"/><rect x="5.52" y="2.8" width="9.77" height="4.4" rx="2.2" transform="rotate(-45 10.4 5)"/></g></svg>
<svg class="s" style="left:929.4px;top:927.1999999999999px;" width="16" height="17" viewBox="0 0 16 17" fill="none"><g stroke="#141418" stroke-width="1.4" stroke-linecap="round" stroke-linejoin="round"><path d="M1.85 6.3 A2.75 2.75 0 0 1 4.6 3.55 H10.85 A2.75 2.75 0 0 1 13.6 6.3 L13 13 A3.2 3.2 0 0 1 9.8 16.2 H5.6 A3.2 3.2 0 0 1 2.4 13 Z"/><path d="M3.9 3.3 L5.1 1.4 Q5.5 0.4 6.5 0.4 H8.9 Q9.9 0.4 10.3 1.4 L11.4 3.3"/><path d="M6 7.3 V11.5 M9.2 7.3 V11.5"/></g></svg>
<div class="t" style="left:693.37px;top:962.85px;font-size:15.3px;color:#120f30;letter-spacing:0.333px;-webkit-text-stroke:0.55px #120f30;transform:scaleX(1.0731);transform-origin:0 0;">UI/UX testing</div>
<div class="t" style="left:693.72px;top:983.89px;font-size:11px;color:#8d8c9f;letter-spacing:0.015px;transform:scaleX(1.0043);transform-origin:0 0;">Perform user Testing on product</div>
<div class="r" style="left:694.6px;top:1009.8px;height:18.4px;display:flex;gap:6.2px"><div style="width:61.4px;height:18.4px;border-radius:9.2px;background:#fbe2e2;color:#cc2b36;font-size:7.6px;line-height:19.6px;text-align:center;-webkit-text-stroke:0.2px #cc2b36;letter-spacing:0.05px;will-change:transform">High priority</div><div style="width:38.6px;height:18.4px;border-radius:9.2px;background:#e7f7ef;color:#4cb98a;font-size:7.6px;line-height:19.6px;text-align:center;-webkit-text-stroke:0.2px #4cb98a;letter-spacing:0.05px;will-change:transform">Huge</div></div>
<div class="r" style="left:686px;top:1044.8px;width:267.7px;height:57.4px;background:#f4f5f7;border-radius:15px;"></div>
<div class="r" style="left:705px;top:1058.8999999999999px;width:30px;height:30px;background:#fff;border-radius:15px;border:1px solid #e4e4e6;box-shadow:0 1px 2px rgba(0,0,0,0.06);"></div>
<svg class="s" style="left:713.5px;top:1067.3999999999999px;" width="13" height="13" viewBox="0 0 13 13" fill="none"><g stroke="#3f7df5" stroke-width="1.1" stroke-linecap="round"><rect x="0.8" y="1.8" width="11.4" height="10.4" rx="2.2"/><path d="M0.8 4.8 H12.2 M3.8 0.6 V2.6 M9.2 0.6 V2.6"/></g><g fill="#3f7df5"><circle cx="4" cy="7.3" r="0.6"/><circle cx="6.5" cy="7.3" r="0.6"/><circle cx="9" cy="7.3" r="0.6"/><circle cx="4" cy="9.8" r="0.6"/><circle cx="6.5" cy="9.8" r="0.6"/><circle cx="9" cy="9.8" r="0.6"/></g></svg>
<div class="t" style="left:740.24px;top:1068.93px;font-size:11.3px;color:#35353c;letter-spacing:-0.014px;-webkit-text-stroke:0.12px #35353c;transform:scaleX(0.9967);transform-origin:0 0;">25 Mar 2024</div>
<div class="r" style="left:851.0px;top:1058.8999999999999px;width:30px;height:30px;background:#fff;border-radius:15px;border:1px solid #e4e4e6;box-shadow:0 1px 2px rgba(0,0,0,0.06);"></div>
<svg class="s" style="left:859.0px;top:1066.8999999999999px;" width="14" height="14" viewBox="0 0 14 14" fill="none"><g stroke="#f07a45" stroke-width="1.1" stroke-linecap="round" stroke-linejoin="round"><circle cx="7" cy="7.8" r="4.8"/><path d="M7 5.5 V7.9 L8.6 9 M1.2 3.2 L3.4 1.2 M12.8 3.2 L10.6 1.2 M3.4 11.8 L2.3 13 M10.6 11.8 L11.7 13"/></g></svg>
<div class="t" style="left:885.96px;top:1068.93px;font-size:11.3px;color:#35353c;letter-spacing:-0.048px;-webkit-text-stroke:0.12px #35353c;transform:scaleX(0.9889);transform-origin:0 0;">10:00 am</div>
<div class="r" style="left:1056px;top:508.7px;width:273.4px;height:177.3px;background:#fff;border-radius:14px;box-shadow:0 3px 14px rgba(0,0,0,0.075),0 1px 3px rgba(0,0,0,0.04);"></div>
<div class="r" style="left:1071.4px;top:524.7px;width:81.3px;height:19.5px;background:#3be27c;border-radius:3.5px;"></div>
<div class="t" style="left:1082.94px;top:529.79px;font-size:11px;color:#13213a;letter-spacing:0.058px;-webkit-text-stroke:0.2px #13213a;transform:scaleX(1.0136);transform-origin:0 0;">Completed</div>
<svg class="s" style="left:1290px;top:536.0px;" width="16" height="5" viewBox="0 0 16 5" fill="none"><g fill="#15151a"><circle cx="2.6" cy="2.5" r="1.45"/><circle cx="8" cy="2.5" r="1.45"/><circle cx="13.4" cy="2.5" r="1.45"/></g></svg>
<div class="t" style="left:1070.68px;top:562.05px;font-size:15.3px;color:#120f30;letter-spacing:0.265px;-webkit-text-stroke:0.55px #120f30;transform:scaleX(1.0512);transform-origin:0 0;">Schedule Post</div>
<div class="t" style="left:1071.07px;top:582.89px;font-size:11px;color:#8d8c9f;letter-spacing:0.003px;transform:scaleX(1.0010);transform-origin:0 0;">schedule instagram post of dust &amp; dawn</div>
<div class="r" style="left:1071.4px;top:602.6px;height:18.4px;display:flex;gap:6.2px"><div style="width:61.6px;height:18.4px;border-radius:9.2px;background:#fbe2e2;color:#cc2b36;font-size:7.6px;line-height:19.6px;text-align:center;-webkit-text-stroke:0.2px #cc2b36;letter-spacing:0.05px;will-change:transform">High priority</div><div style="width:47.7px;height:18.4px;border-radius:9.2px;background:#e7f7ef;color:#4cb98a;font-size:7.6px;line-height:19.6px;text-align:center;-webkit-text-stroke:0.2px #4cb98a;letter-spacing:0.05px;will-change:transform">Medium</div></div>
<div class="r" style="left:1058.7px;top:637.6px;width:267.5px;height:42px;background:#f4f5f7;border-radius:15px;"></div>
<div class="r" style="left:1076.9px;top:650.6px;width:16.6px;height:16.6px;background:#d2f3df;border-radius:8.3px;"></div>
<svg class="s" style="left:1081.2px;top:655.4px;" width="8" height="7" viewBox="0 0 8 7" fill="none"><path d="M1.7 4.4 L4.1 6.2 L7.4 1" stroke="#2bd666" stroke-width="1.5" stroke-linecap="round" stroke-linejoin="round"/></svg>
<div class="t" style="left:1100.65px;top:650.88px;font-size:14.2px;color:#2fda69;letter-spacing:0.071px;-webkit-text-stroke:0.15px #2fda69;transform:scaleX(1.0100);transform-origin:0 0;">Done</div>
<div class="r" style="left:1056px;top:707.6px;width:273.4px;height:177.3px;background:#fff;border-radius:14px;box-shadow:0 3px 14px rgba(0,0,0,0.075),0 1px 3px rgba(0,0,0,0.04);"></div>
<div class="r" style="left:1071.4px;top:723.6px;width:81.3px;height:19.5px;background:#3be27c;border-radius:3.5px;"></div>
<div class="t" style="left:1082.94px;top:728.69px;font-size:11px;color:#13213a;letter-spacing:0.058px;-webkit-text-stroke:0.2px #13213a;transform:scaleX(1.0136);transform-origin:0 0;">Completed</div>
<svg class="s" style="left:1290px;top:734.9px;" width="16" height="5" viewBox="0 0 16 5" fill="none"><g fill="#15151a"><circle cx="2.6" cy="2.5" r="1.45"/><circle cx="8" cy="2.5" r="1.45"/><circle cx="13.4" cy="2.5" r="1.45"/></g></svg>
<div class="t" style="left:1070.10px;top:760.95px;font-size:15.3px;color:#120f30;letter-spacing:0.274px;-webkit-text-stroke:0.55px #120f30;transform:scaleX(1.0581);transform-origin:0 0;">Holi Post</div>
<div class="t" style="left:1070.52px;top:781.79px;font-size:11px;color:#8d8c9f;transform:scaleX(1.0001);transform-origin:0 0;">Design Post for Holi</div>
<div class="r" style="left:1071.4px;top:801.5px;height:18.4px;display:flex;gap:6.2px"><div style="width:61.6px;height:18.4px;border-radius:9.2px;background:#fbe2e2;color:#cc2b36;font-size:7.6px;line-height:19.6px;text-align:center;-webkit-text-stroke:0.2px #cc2b36;letter-spacing:0.05px;will-change:transform">High priority</div><div style="width:47.7px;height:18.4px;border-radius:9.2px;background:#e7f7ef;color:#4cb98a;font-size:7.6px;line-height:19.6px;text-align:center;-webkit-text-stroke:0.2px #4cb98a;letter-spacing:0.05px;will-change:transform">Medium</div></div>
<div class="r" style="left:1058.7px;top:836.5px;width:267.5px;height:42px;background:#f4f5f7;border-radius:15px;"></div>
<div class="r" style="left:1076.9px;top:849.5px;width:16.6px;height:16.6px;background:#d2f3df;border-radius:8.3px;"></div>
<svg class="s" style="left:1081.2px;top:854.3px;" width="8" height="7" viewBox="0 0 8 7" fill="none"><path d="M1.7 4.4 L4.1 6.2 L7.4 1" stroke="#2bd666" stroke-width="1.5" stroke-linecap="round" stroke-linejoin="round"/></svg>
<div class="t" style="left:1100.65px;top:849.78px;font-size:14.2px;color:#2fda69;letter-spacing:0.071px;-webkit-text-stroke:0.15px #2fda69;transform:scaleX(1.0100);transform-origin:0 0;">Done</div>
<div class="r" style="left:343px;top:898.4px;width:267.8px;height:43.1px;background:#fff;border-radius:7px;border:1.3px solid #aeb1bd;"></div>
<svg class="s" style="left:425.7px;top:911.4499999999999px;" width="17" height="17" viewBox="0 0 17 17" fill="none"><path d="M8.5 1 V16 M1 8.5 H16" stroke="#8a8fa0" stroke-width="1.6" stroke-linecap="round"/></svg>
<div class="t" style="left:454.20px;top:911.88px;font-size:16.5px;color:#8a8fa0;letter-spacing:0.233px;transform:scaleX(1.0376);transform-origin:0 0;">Add Task</div>
<div class="r" style="left:683.3px;top:1126.4px;width:268.3px;height:43.2px;background:#fff;border-radius:7px;border:1.3px solid #aeb1bd;"></div>
<svg class="s" style="left:766.2499999999999px;top:1139.5px;" width="17" height="17" viewBox="0 0 17 17" fill="none"><path d="M8.5 1 V16 M1 8.5 H16" stroke="#8a8fa0" stroke-width="1.6" stroke-linecap="round"/></svg>
<div class="t" style="left:794.75px;top:1139.93px;font-size:16.5px;color:#8a8fa0;letter-spacing:0.233px;transform:scaleX(1.0376);transform-origin:0 0;">Add Task</div>
<div class="r" style="left:1056.3px;top:906px;width:267.3px;height:43.2px;background:#fff;border-radius:7px;border:1.3px solid #aeb1bd;"></div>
<svg class="s" style="left:1138.75px;top:919.1px;" width="17" height="17" viewBox="0 0 17 17" fill="none"><path d="M8.5 1 V16 M1 8.5 H16" stroke="#8a8fa0" stroke-width="1.6" stroke-linecap="round"/></svg>
<div class="t" style="left:1167.25px;top:919.53px;font-size:16.5px;color:#8a8fa0;letter-spacing:0.233px;transform:scaleX(1.0376);transform-origin:0 0;">Add Task</div>
<svg class="s" style="left:1702.5px;top:161.5px;" width="27" height="29" viewBox="0 0 27 29" fill="none"><g stroke="#4536ef" stroke-width="2" stroke-linecap="round" stroke-linejoin="round">
<rect x="1.5" y="4" width="23.5" height="23" rx="5.5"/><path d="M1.5 10.5 H25 M7.5 1 V6 M19 1 V6"/></g>
<g fill="#4536ef"><circle cx="8.5" cy="16.2" r="1.2"/><circle cx="12.5" cy="16.2" r="1.2"/><circle cx="8.5" cy="21" r="1.2"/></g></svg>
<svg class="s" style="left:1767.5px;top:161.5px;" width="26" height="29" viewBox="0 0 26 29" fill="none"><g stroke="#66637e" stroke-width="1.9" stroke-linecap="round" stroke-linejoin="round">
<path d="M12.4 0.9 C7.6 0.9 4.6 4.2 4.6 8.6 V14 C4.6 16.6 3 18.6 1.8 20 C0.6 21.4 1.4 22.6 3 23 C6 23.8 9 24.2 12.4 24.2 C15.8 24.2 18.8 23.8 21.8 23 C23.4 22.6 24.2 21.4 23 20 C21.8 18.6 20.2 16.6 20.2 14 V8.6 C20.2 4.2 17.2 0.9 12.4 0.9 Z"/>
<path d="M8.7 24.4 C9.1 26.9 10.5 28.2 12.4 28.2 C14.3 28.2 15.7 26.9 16.1 24.4"/><path d="M10.4 1.3 Q12.4 -0.3 14.4 1.3"/></g>
<circle cx="20.5" cy="3.7" r="4" fill="#dd6a76"/></svg>
<svg class="s" style="left:1829.8px;top:162.5px;" width="29" height="28" viewBox="0 0 29 28" fill="none"><g stroke="#6b6a82" stroke-width="1.9" stroke-linecap="round" stroke-linejoin="round">
<path d="M6.5 1.5 H22 A5 5 0 0 1 27 6.5 V15 A5 5 0 0 1 22 20 H12 L7 25.5 L6.8 20 A5.3 5.3 0 0 1 1.5 15 V6.5 A5 5 0 0 1 6.5 1.5 Z"/>
<path d="M11.7 7.5 C11.7 5.6 16.5 5.6 16.5 7.8 C16.5 9.5 14.2 9.5 14.2 11.6"/></g><circle cx="14.2" cy="14.6" r="1.1" fill="#6b6a82"/></svg>
<div class="r" style="left:1416.9px;top:218.6px;width:440.3px;height:502.3px;background:#fff;border-radius:8px;border:1.2px solid #efefef;box-shadow:0 0 14px rgba(0,0,0,0.035);"></div>
<div class="t" style="left:1473.41px;top:256.85px;font-size:16px;color:#0b0b0f;letter-spacing:0.489px;-webkit-text-stroke:0.3px #0b0b0f;transform:scaleX(1.0875);transform-origin:0 0;">Monthly</div>
<div class="t" style="left:1586.64px;top:256.85px;font-size:16px;color:#0b0b0f;letter-spacing:0.337px;-webkit-text-stroke:0.3px #0b0b0f;transform:scaleX(1.0626);transform-origin:0 0;">Daily</div>
<div class="r" style="left:1473.9px;top:286.2px;width:64px;height:2.8px;background:#4436f0;border-radius:0px;"></div>
<svg class="s" style="left:1474px;top:316px;" width="321" height="7" viewBox="0 0 321 7" fill="none"><path d="M0 1.5 L320 5.5" stroke="#e6dede" stroke-width="1.3"/></svg>
<div class="t" style="left:1473.98px;top:353.57px;font-size:20px;color:#2a2a2e;font-weight:700;letter-spacing:0.14px;transform:scaleX(1.0179);transform-origin:0 0;">March 2024</div>
<svg class="s" style="left:1760px;top:354px;" width="10" height="16" viewBox="0 0 10 16" fill="none"><path d="M7.5 2 L2 8 L7.5 14" stroke="#222" stroke-width="1.6" stroke-linecap="round" stroke-linejoin="round"/></svg>
<svg class="s" style="left:1786px;top:354px;" width="10" height="16" viewBox="0 0 10 16" fill="none"><path d="M2.5 2 L8 8 L2.5 14" stroke="#222" stroke-width="1.6" stroke-linecap="round" stroke-linejoin="round"/></svg>
<div class="t" style="left:1468.80px;width:40px;text-align:center;top:405.57px;font-size:20px;color:#2c2c30;letter-spacing:0.3px;">Mo</div>
<div class="t" style="left:1520.40px;width:40px;text-align:center;top:405.57px;font-size:20px;color:#2c2c30;letter-spacing:0.3px;">Tu</div>
<div class="t" style="left:1572.50px;width:40px;text-align:center;top:405.57px;font-size:20px;color:#2c2c30;letter-spacing:0.3px;">We</div>
<div class="t" style="left:1625.00px;width:40px;text-align:center;top:405.57px;font-size:20px;color:#2c2c30;letter-spacing:0.3px;">Th</div>
<div class="t" style="left:1673.10px;width:40px;text-align:center;top:405.57px;font-size:20px;color:#2c2c30;letter-spacing:0.3px;">Fr</div>
<div class="t" style="left:1719.20px;width:40px;text-align:center;top:405.57px;font-size:20px;color:#2c2c30;letter-spacing:0.3px;">Sa</div>
<div class="t" style="left:1769.00px;width:40px;text-align:center;top:405.57px;font-size:20px;color:#2c2c30;letter-spacing:0.3px;">Su</div>
<div class="r" style="left:1715.6000000000001px;top:584.6px;width:43.6px;height:43.6px;background:#4535ec;border-radius:21.8px;"></div>
<div class="t" style="left:1673.70px;width:40px;text-align:center;top:454.09px;font-size:19.5px;color:#c7c7c9;letter-spacing:0.3px;">1</div>
<div class="t" style="left:1720.20px;width:40px;text-align:center;top:454.09px;font-size:19.5px;color:#c7c7c9;letter-spacing:0.3px;">2</div>
<div class="t" style="left:1769.00px;width:40px;text-align:center;top:454.09px;font-size:19.5px;color:#c7c7c9;letter-spacing:0.3px;">3</div>
<div class="t" style="left:1468.80px;width:40px;text-align:center;top:501.89px;font-size:19.5px;color:#c7c7c9;letter-spacing:0.3px;">4</div>
<div class="t" style="left:1521.50px;width:40px;text-align:center;top:501.89px;font-size:19.5px;color:#c7c7c9;letter-spacing:0.3px;">5</div>
<div class="t" style="left:1571.90px;width:40px;text-align:center;top:501.89px;font-size:19.5px;color:#c7c7c9;letter-spacing:0.3px;">6</div>
<div class="t" style="left:1625.00px;width:40px;text-align:center;top:501.89px;font-size:19.5px;color:#c7c7c9;letter-spacing:0.3px;">7</div>
<div class="t" style="left:1673.20px;width:40px;text-align:center;top:501.89px;font-size:19.5px;color:#c7c7c9;letter-spacing:0.3px;">8</div>
<div class="t" style="left:1718.60px;width:40px;text-align:center;top:501.89px;font-size:19.5px;color:#c7c7c9;letter-spacing:0.3px;">9</div>
<div class="t" style="left:1769.00px;width:40px;text-align:center;top:501.89px;font-size:19.5px;color:#c7c7c9;letter-spacing:0.3px;">10</div>
<div class="t" style="left:1468.80px;width:40px;text-align:center;top:549.89px;font-size:19.5px;color:#c7c7c9;letter-spacing:0.3px;">11</div>
<div class="t" style="left:1520.40px;width:40px;text-align:center;top:549.89px;font-size:19.5px;color:#c7c7c9;letter-spacing:0.3px;">12</div>
<div class="t" style="left:1571.90px;width:40px;text-align:center;top:549.89px;font-size:19.5px;color:#c7c7c9;letter-spacing:0.3px;">13</div>
<div class="t" style="left:1626.20px;width:40px;text-align:center;top:549.89px;font-size:19.5px;color:#c7c7c9;letter-spacing:0.3px;">14</div>
<div class="t" style="left:1673.20px;width:40px;text-align:center;top:549.89px;font-size:19.5px;color:#c7c7c9;letter-spacing:0.3px;">15</div>
<div class="t" style="left:1717.90px;width:40px;text-align:center;top:549.89px;font-size:19.5px;color:#c7c7c9;letter-spacing:0.3px;">16</div>
<div class="t" style="left:1769.50px;width:40px;text-align:center;top:549.89px;font-size:19.5px;color:#c7c7c9;letter-spacing:0.3px;">17</div>
<div class="t" style="left:1468.80px;width:40px;text-align:center;top:597.99px;font-size:19.5px;color:#c7c7c9;letter-spacing:0.3px;">18</div>
<div class="t" style="left:1521.30px;width:40px;text-align:center;top:597.99px;font-size:19.5px;color:#c7c7c9;letter-spacing:0.3px;">19</div>
<div class="t" style="left:1572.80px;width:40px;text-align:center;top:597.99px;font-size:19.5px;color:#c7c7c9;letter-spacing:0.3px;">20</div>
<div class="t" style="left:1624.40px;width:40px;text-align:center;top:597.99px;font-size:19.5px;color:#c7c7c9;letter-spacing:0.3px;">21</div>
<div class="t" style="left:1672.70px;width:40px;text-align:center;top:597.99px;font-size:19.5px;color:#c7c7c9;letter-spacing:0.3px;">22</div>
<div class="t" style="left:1717.60px;width:40px;text-align:center;top:597.99px;font-size:19.5px;color:#fff;letter-spacing:0.3px;">23</div>
<div class="t" style="left:1768.80px;width:40px;text-align:center;top:597.99px;font-size:19.5px;color:#3c3c40;letter-spacing:0.3px;">24</div>
<div class="t" style="left:1468.80px;width:40px;text-align:center;top:646.09px;font-size:19.5px;color:#3c3c40;letter-spacing:0.3px;">25</div>
<div class="t" style="left:1519.70px;width:40px;text-align:center;top:646.09px;font-size:19.5px;color:#3c3c40;letter-spacing:0.3px;">26</div>
<div class="t" style="left:1574.00px;width:40px;text-align:center;top:646.09px;font-size:19.5px;color:#3c3c40;letter-spacing:0.3px;">27</div>
<div class="t" style="left:1624.60px;width:40px;text-align:center;top:646.09px;font-size:19.5px;color:#3c3c40;letter-spacing:0.3px;">28</div>
<div class="t" style="left:1672.70px;width:40px;text-align:center;top:646.09px;font-size:19.5px;color:#3c3c40;letter-spacing:0.3px;">29</div>
<div class="t" style="left:1721.60px;width:40px;text-align:center;top:646.09px;font-size:19.5px;color:#3c3c40;letter-spacing:0.3px;">30</div>
<div class="t" style="left:1765.30px;width:40px;text-align:center;top:646.09px;font-size:19.5px;color:#3c3c40;letter-spacing:0.3px;">31</div>
<div class="t" style="left:1416.93px;top:785.28px;font-size:32.5px;color:#2f2f33;letter-spacing:0.448px;-webkit-text-stroke:0.3px #2f2f33;transform:scaleX(1.0314);transform-origin:0 0;">Task</div>
<svg class="s" style="left:1828.5px;top:789px;" width="27" height="26" viewBox="0 0 27 26" fill="none"><g stroke="#2a2a2e" stroke-width="1.8" stroke-linecap="round" stroke-linejoin="round"><path d="M2.6 15.6 L14.6 2.6 Q16.1 1 17.8 2.4 L21.6 5.7 Q23.3 7.2 21.8 8.8 L10.4 21.3 Q9.7 22 8.6 22.2 L4.2 22.9 Q2.7 23.1 2.6 21.6 Z"/><path d="M14.5 23.3 H24.4"/></g></svg>
<div class="r" style="left:1415px;top:839px;width:453px;height:1.3px;background:#ded8de;border-radius:0px;"></div>
<div class="r" style="left:1417.7px;top:887.0999999999999px;width:28.4px;height:28.6px;background:#f8f8f9;border-radius:5.5px;border:2px solid #d8d8d8;"></div>
<svg class="s" style="left:1424px;top:895.3px;" width="16" height="13" viewBox="0 0 16 13" fill="none"><path d="M2.2 7.6 L6.6 11.7 L13.1 1.2" stroke="#3d3c55" stroke-width="2.1" stroke-linecap="round" stroke-linejoin="round"/></svg>
<div class="t" style="left:1457.98px;top:891.04px;font-size:21.8px;color:#a9a8ba;letter-spacing:0.321px;transform:scaleX(1.0422);transform-origin:0 0;">Schedule post Dusk&amp;Dawn</div>
<div class="r" style="left:1417.7px;top:956.4999999999999px;width:28.4px;height:28.6px;background:#f8f8f9;border-radius:5.5px;border:2px solid #d8d8d8;"></div>
<svg class="s" style="left:1424px;top:964.6999999999999px;" width="16" height="13" viewBox="0 0 16 13" fill="none"><path d="M2.2 7.6 L6.6 11.7 L13.1 1.2" stroke="#3d3c55" stroke-width="2.1" stroke-linecap="round" stroke-linejoin="round"/></svg>
<div class="t" style="left:1457.16px;top:960.44px;font-size:21.8px;color:#a9a8ba;letter-spacing:0.344px;transform:scaleX(1.0554);transform-origin:0 0;">Design post for Holi</div>
<div class="r" style="left:1417.7px;top:1025.3999999999999px;width:28.4px;height:28.6px;background:#f8f8f9;border-radius:5.5px;border:2px solid #d8d8d8;"></div>
<div class="t" style="left:1457.16px;top:1029.34px;font-size:21.8px;color:#48475d;letter-spacing:0.37px;transform:scaleX(1.0562);transform-origin:0 0;">Brainstorming new project</div>
<div class="r" style="left:1417.7px;top:1094.6px;width:28.4px;height:28.6px;background:#f8f8f9;border-radius:5.5px;border:2px solid #d8d8d8;"></div>
<div class="t" style="left:1457.18px;top:1098.54px;font-size:21.8px;color:#48475d;letter-spacing:0.323px;transform:scaleX(1.0462);transform-origin:0 0;">Re-Branding Discussion</div>
<div class="r" style="left:1417.7px;top:1163.8px;width:28.4px;height:28.6px;background:#f8f8f9;border-radius:5.5px;border:2px solid #d8d8d8;"></div>
<div class="t" style="left:1457.31px;top:1167.74px;font-size:21.8px;color:#48475d;letter-spacing:0.275px;transform:scaleX(1.0360);transform-origin:0 0;">User Reaserch</div>
<div class="r" style="left:1513.8px;top:1250px;width:280.8px;height:64.6px;background:#000;border-radius:14px;box-shadow:0 4px 8px rgba(0,0,0,0.22);"></div>
<div class="t" style="left:1565.45px;top:1271.28px;font-size:24px;color:#fff;letter-spacing:0.503px;-webkit-text-stroke:0.3px #fff;transform:scaleX(1.0623);transform-origin:0 0;">Schedule Task</div>
</body></html>
